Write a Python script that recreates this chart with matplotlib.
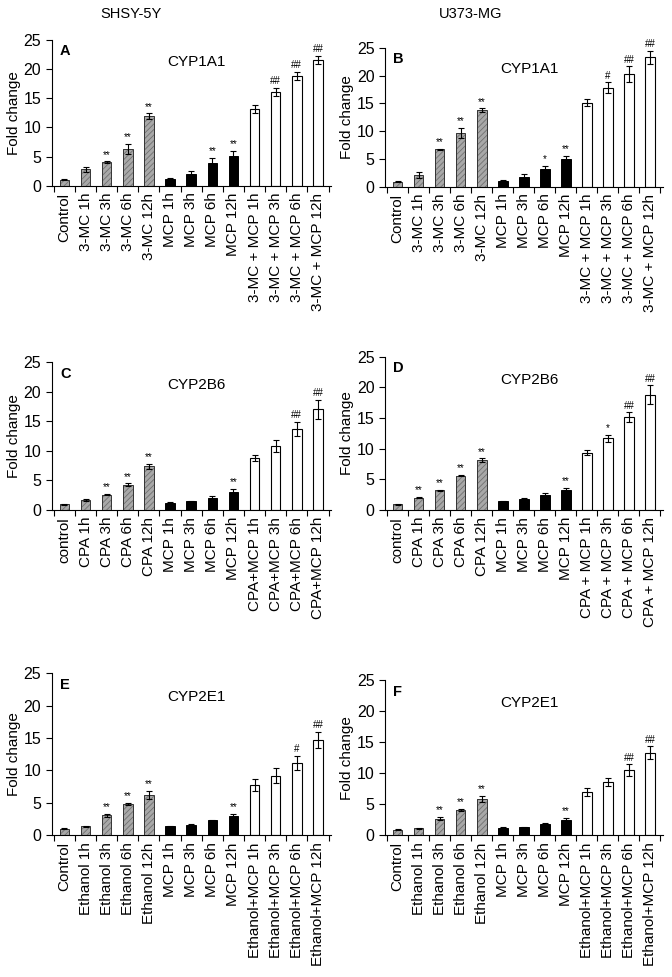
import numpy as np
import matplotlib
matplotlib.use("Agg")
import matplotlib.pyplot as plt

plt.rcParams["font.family"] = ["Liberation Sans", "DejaVu Sans"]
plt.rcParams["hatch.linewidth"] = 0.6

# ---- data ----
labels_a = ["Control", "3-MC 1h", "3-MC 3h", "3-MC 6h", "3-MC 12h",
            "MCP 1h", "MCP 3h", "MCP 6h", "MCP 12h",
            "3-MC + MCP 1h", "3-MC + MCP 3h", "3-MC + MCP 6h", "3-MC + MCP 12h"]
labels_c = ["control", "CPA 1h", "CPA 3h", "CPA 6h", "CPA 12h",
            "MCP 1h", "MCP 3h", "MCP 6h", "MCP 12h",
            "CPA+MCP 1h", "CPA+MCP 3h", "CPA+MCP 6h", "CPA+MCP 12h"]
labels_d = ["control", "CPA 1h", "CPA 3h", "CPA 6h", "CPA 12h",
            "MCP 1h", "MCP 3h", "MCP 6h", "MCP 12h",
            "CPA + MCP 1h", "CPA + MCP 3h", "CPA + MCP 6h", "CPA + MCP 12h"]
labels_e = ["Control", "Ethanol 1h", "Ethanol 3h", "Ethanol 6h", "Ethanol 12h",
            "MCP 1h", "MCP 3h", "MCP 6h", "MCP 12h",
            "Ethanol+MCP 1h", "Ethanol+MCP 3h", "Ethanol+MCP 6h", "Ethanol+MCP 12h"]

vals_a = [1.0, 2.8, 4.0, 6.3, 11.9, 1.2, 2.0, 3.9, 5.1, 13.2, 16.1, 18.8, 21.6]
err_a = [0.1, 0.4, 0.15, 0.8, 0.5, 0.1, 0.5, 0.8, 0.9, 0.7, 0.7, 0.7, 0.7]
sig_a = ["", "", "**", "**", "**", "", "", "**", "**", "", "##", "##", "##"]

vals_b = [0.9, 2.1, 6.7, 9.7, 13.8, 1.1, 1.7, 3.2, 4.9, 15.1, 17.8, 20.3, 23.3]
err_b = [0.1, 0.6, 0.1, 0.9, 0.3, 0.1, 0.5, 0.6, 0.7, 0.6, 1.0, 1.4, 1.2]
sig_b = ["", "", "**", "**", "**", "", "", "*", "**", "", "#", "##", "##"]

vals_c = [1.0, 1.7, 2.6, 4.3, 7.4, 1.2, 1.5, 2.0, 3.0, 8.8, 10.8, 13.7, 17.1]
err_c = [0.1, 0.1, 0.1, 0.2, 0.4, 0.1, 0.1, 0.3, 0.6, 0.5, 1.0, 1.2, 1.6]
sig_c = ["", "", "**", "**", "**", "", "", "", "**", "", "", "##", "##"]

vals_d = [0.9, 2.0, 3.2, 5.6, 8.1, 1.4, 1.8, 2.4, 3.2, 9.3, 11.7, 15.1, 18.8]
err_d = [0.1, 0.1, 0.1, 0.1, 0.3, 0.1, 0.1, 0.3, 0.4, 0.4, 0.6, 0.8, 1.5]
sig_d = ["", "**", "**", "**", "**", "", "", "", "**", "", "*", "##", "##"]

vals_e = [1.0, 1.4, 3.1, 4.8, 6.2, 1.4, 1.6, 2.3, 3.0, 7.8, 9.2, 11.1, 14.7]
err_e = [0.1, 0.1, 0.2, 0.2, 0.6, 0.1, 0.1, 0.1, 0.3, 0.9, 1.2, 1.1, 1.3]
sig_e = ["", "", "**", "**", "**", "", "", "", "**", "", "", "#", "##"]

vals_f = [0.9, 1.1, 2.7, 4.1, 5.8, 1.2, 1.3, 1.9, 2.5, 7.0, 8.6, 10.5, 13.3]
err_f = [0.1, 0.1, 0.2, 0.2, 0.5, 0.1, 0.1, 0.1, 0.3, 0.6, 0.7, 0.9, 1.0]
sig_f = ["", "", "**", "**", "**", "", "", "", "**", "", "", "##", "##"]

panels = [
    ("A", "CYP1A1", labels_a, vals_a, err_a, sig_a, [0.077, 0.810, 0.415, 0.149]),
    ("B", "CYP1A1", labels_a, vals_b, err_b, sig_b, [0.573, 0.809, 0.413, 0.142]),
    ("C", "CYP2B6", labels_c, vals_c, err_c, sig_c, [0.077, 0.478, 0.415, 0.151]),
    ("D", "CYP2B6", labels_d, vals_d, err_d, sig_d, [0.573, 0.478, 0.413, 0.157]),
    ("E", "CYP2E1", labels_e, vals_e, err_e, sig_e, [0.077, 0.145, 0.415, 0.166]),
    ("F", "CYP2E1", labels_e, vals_f, err_f, sig_f, [0.573, 0.145, 0.413, 0.159]),
]

fig = plt.figure(figsize=(6.72, 9.77), dpi=100)
fig.text(0.195, 0.986, "SHSY-5Y", ha="center", va="center", fontsize=10.5)
fig.text(0.700, 0.986, "U373-MG", ha="center", va="center", fontsize=10.5)

for letter, gene, labels, vals, errs, sigs, pos in panels:
    ax = fig.add_axes(pos)
    x = np.arange(len(vals))
    for i in x:
        if i < 5:
            ax.bar(i, vals[i], width=0.45, color="#a8a8a8", edgecolor="#707070",
                   linewidth=0.0, hatch="//////", zorder=2)
            ax.bar(i, vals[i], width=0.45, facecolor="none", edgecolor="#333333",
                   linewidth=0.7, zorder=3)
        elif i < 9:
            ax.bar(i, vals[i], width=0.45, color="black", edgecolor="black",
                   linewidth=0.7, zorder=2)
        else:
            ax.bar(i, vals[i], width=0.45, color="white", edgecolor="black",
                   linewidth=0.8, zorder=2)
    ax.errorbar(x, vals, yerr=errs, fmt="none", ecolor="black", elinewidth=0.8,
                capsize=2.5, capthick=0.8, zorder=4)
    for i in x:
        if sigs[i]:
            ax.text(i, vals[i] + errs[i] + 0.3, sigs[i], ha="center", va="bottom",
                    fontsize=7)
    ax.set_xlim(-0.6, len(vals) - 0.4)
    ax.set_ylim(0, 25)
    ax.set_yticks([0, 5, 10, 15, 20, 25])
    ax.set_xticks(x)
    ax.set_xticklabels(labels, rotation=90, fontsize=11)
    ax.set_xticks(np.arange(len(vals) + 1) - 0.5, minor=True)
    ax.tick_params(axis="x", which="major", length=0, pad=5)
    ax.tick_params(axis="x", which="minor", length=4, width=0.8, direction="out")
    ax.tick_params(axis="y", labelsize=11.5, length=4, width=0.8)
    for s in ["top", "right"]:
        ax.spines[s].set_visible(False)
    ax.spines["left"].set_linewidth(0.8)
    ax.spines["bottom"].set_linewidth(0.8)
    ax.set_ylabel("Fold change", fontsize=11, labelpad=2)
    ax.text(0.03, 0.97, letter, transform=ax.transAxes, fontsize=10.5,
            fontweight="bold", ha="left", va="top")
    ax.text(0.52, 0.85, gene, transform=ax.transAxes, fontsize=11,
            ha="center", va="center")

fig.savefig("out.png", dpi=100)
